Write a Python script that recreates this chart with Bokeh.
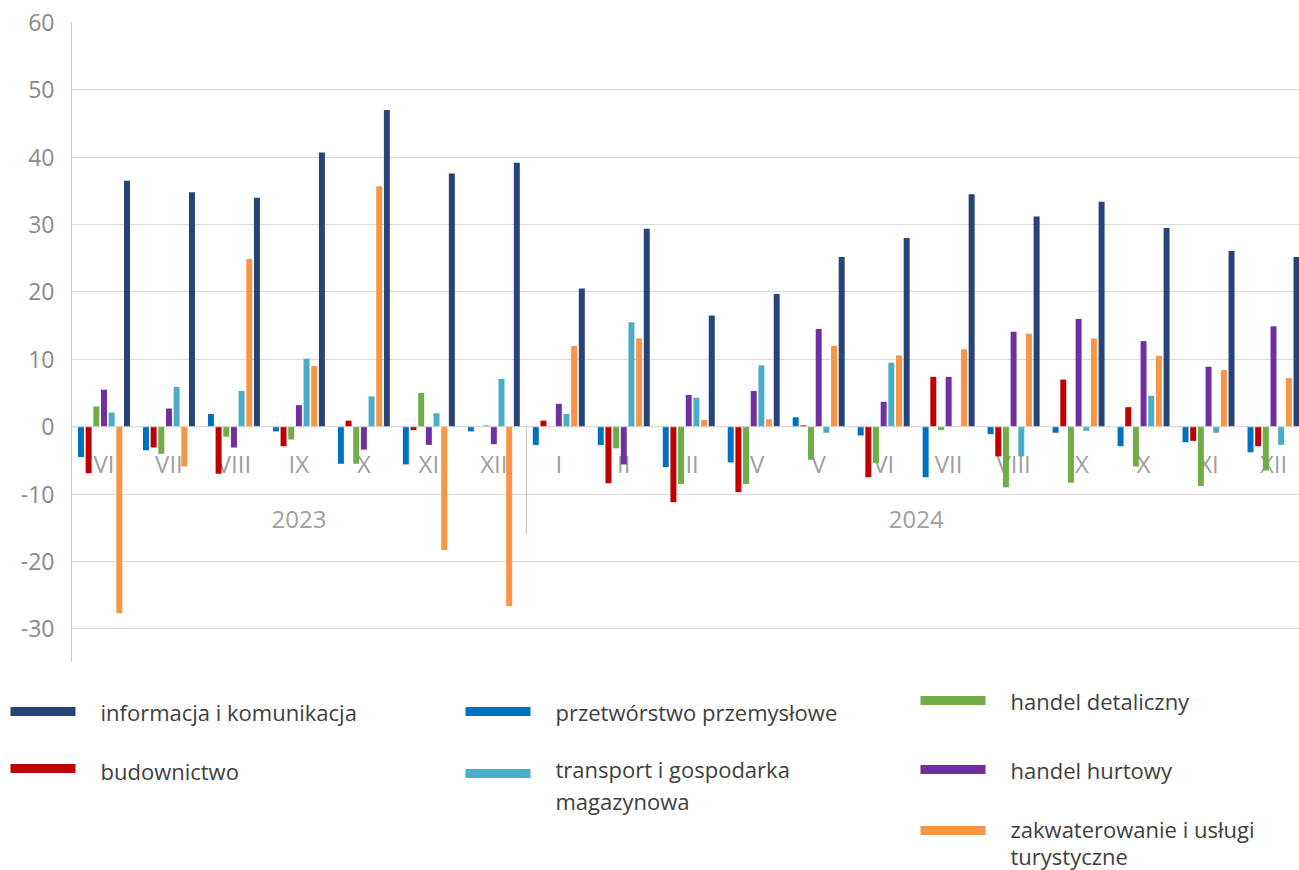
from bokeh.plotting import figure
from bokeh.models import Range1d, FixedTicker, ColumnDataSource, PrintfTickFormatter
from bokeh.layouts import column, row
from bokeh.core.properties import value
from bokeh.embed import file_html
from bokeh.resources import INLINE

months = ["VI", "VII", "VIII", "IX", "X", "XI", "XII", "I", "II", "III", "IV", "V",
          "VI", "VII", "VIII", "IX", "X", "XI", "XII"]
years = ["2023", "2024"]
year_counts = [7, 12]
y_ticks = [-30, -20, -10, 0, 10, 20, 30, 40, 50, 60]

przetworstwo = [-4.5, -3.5, 1.9, -0.7, -5.5, -5.6, -0.7, -2.7, -2.7, -6.0, -5.3, 1.4, -1.3, -7.5, -1.1, -0.9, -2.9, -2.3, -3.8]
budownictwo = [-6.9, -3.1, -7.0, -2.9, 0.9, -0.5, 0.0, 0.9, -8.4, -11.2, -9.7, 0.2, -7.5, 7.4, -4.4, 7.0, 2.9, -2.1, -2.9]
handel_detaliczny = [3.0, -4.0, -1.5, -1.9, -5.5, 5.0, 0.2, 0.1, -3.2, -8.5, -8.5, -4.9, -5.4, -0.5, -9.0, -8.3, -5.9, -8.8, -6.5]
handel_hurtowy = [5.5, 2.7, -3.1, 3.2, -3.4, -2.7, -2.6, 3.4, -5.6, 4.7, 5.3, 14.5, 3.7, 7.4, 14.1, 16.0, 12.7, 8.9, 14.9]
transport = [2.1, 5.9, 5.3, 10.1, 4.5, 2.0, 7.1, 1.9, 15.5, 4.3, 9.1, -0.9, 9.5, 0.0, -4.4, -0.6, 4.6, -0.9, -2.7]
zakwaterowanie = [-27.7, -5.9, 24.9, 9.0, 35.7, -18.3, -26.6, 12.0, 13.1, 1.0, 1.1, 12.0, 10.6, 11.5, 13.8, 13.1, 10.5, 8.4, 7.2]
informacja = [36.5, 34.8, 34.0, 40.7, 47.0, 37.6, 39.2, 20.5, 29.4, 16.5, 19.7, 25.2, 28.0, 34.5, 31.2, 33.4, 29.5, 26.1, 25.2]

# order of bars inside a group
series = [
    ("przetwórstwo przemysłowe", przetworstwo, "#0070C0"),
    ("budownictwo", budownictwo, "#C00000"),
    ("handel detaliczny", handel_detaliczny, "#70AD47"),
    ("handel hurtowy", handel_hurtowy, "#7030A0"),
    ("transport i gospodarka magazynowa", transport, "#4BACC6"),
    ("zakwaterowanie i usługi turystyczne", zakwaterowanie, "#F79646"),
    ("informacja i komunikacja", informacja, "#264478"),
]

FONT = "Open Sans"
GRAY = "#a0a0a0"

p = figure(width=1299, height=662, output_backend="svg", toolbar_location=None,
           x_range=Range1d(-0.5, 18.4), y_range=Range1d(-35, 60),
           min_border_left=71, min_border_right=0, min_border_top=22, min_border_bottom=0)
p.outline_line_color = None
p.xaxis.visible = False
p.xgrid.grid_line_color = None
p.ygrid.grid_line_color = "#d9d9d9"
p.ygrid.ticker = FixedTicker(ticks=y_ticks)
p.yaxis.ticker = FixedTicker(ticks=y_ticks)
p.yaxis.formatter = PrintfTickFormatter(format="%d")
p.yaxis.major_tick_line_color = None
p.yaxis.minor_tick_line_color = None
p.yaxis.axis_line_color = "#c8c8c8"
p.yaxis.major_label_text_font = FONT
p.yaxis.major_label_text_font_size = "23px"
p.yaxis.major_label_text_color = "#8a8a8a"
p.yaxis.major_label_standoff = 11

# month labels
xs = list(range(len(months)))
p.text(x=xs, y=[-5.5] * len(months), text=months, text_font=value(FONT),
       text_font_size="24px", text_color=GRAY, text_align="center", text_baseline="middle")

# year labels & separator
starts = [0]
for c in year_counts[:-1]:
    starts.append(starts[-1] + c)
year_x = [s - 0.5 + c / 2 for s, c in zip(starts, year_counts)]
p.text(x=year_x, y=[-13.7] * len(years), text=years, text_font=value(FONT),
       text_font_size="24px", text_color=GRAY, text_align="center", text_baseline="middle")
sep_x = [s - 0.5 for s in starts[1:]]
p.segment(x0=sep_x, y0=[0] * len(sep_x), x1=sep_x, y1=[-16] * len(sep_x),
          line_color="#bfbfbf", line_width=1)

step = 0.118
bw = 0.092
for k, (name, vals, col) in enumerate(series):
    src = ColumnDataSource(dict(x=[i + (k - 3) * step for i in xs], top=vals))
    p.vbar(x="x", top="top", bottom=0, width=bw, source=src, fill_color=col, line_color=None)

# zero line
p.segment(x0=[-0.5], y0=[0], x1=[18.5], y1=[0], line_color="#d9d9d9", line_width=1)

# legend panel
lg = figure(width=1299, height=208, output_backend="svg", toolbar_location=None,
            x_range=Range1d(0, 1299), y_range=Range1d(208, 0),
            min_border_left=0, min_border_right=0, min_border_top=0, min_border_bottom=0)
lg.outline_line_color = None
lg.axis.visible = False
lg.grid.grid_line_color = None

legend_items = [
    # (series index, swatch x, swatch y, text lines y)
    (6, 10, 49, [49]),
    (1, 10, 106, [108]),
    (0, 465, 49, [49]),
    (4, 465, 111, [106, 138]),
    (2, 920, 38, [38]),
    (3, 920, 107, [107]),
    (5, 920, 168, [166, 193]),
]
legend_lines = {
    0: ["przetwórstwo przemysłowe"],
    1: ["budownictwo"],
    2: ["handel detaliczny"],
    3: ["handel hurtowy"],
    4: ["transport i gospodarka", "magazynowa"],
    5: ["zakwaterowanie i usługi", "turystyczne"],
    6: ["informacja i komunikacja"],
}
for idx, sx, sy, tys in legend_items:
    col = series[idx][2]
    lg.rect(x=[sx + 32.5], y=[sy], width=65, height=9, fill_color=col, line_color=None)
    lines = legend_lines[idx]
    lg.text(x=[sx + 90] * len(lines), y=tys, text=lines, text_font=value(FONT),
            text_font_size="22px", text_color="#404040", text_align="left",
            text_baseline="middle")

layout = column(p, row(lg), spacing=0)
open("out.html", "w").write(file_html(layout, INLINE))
